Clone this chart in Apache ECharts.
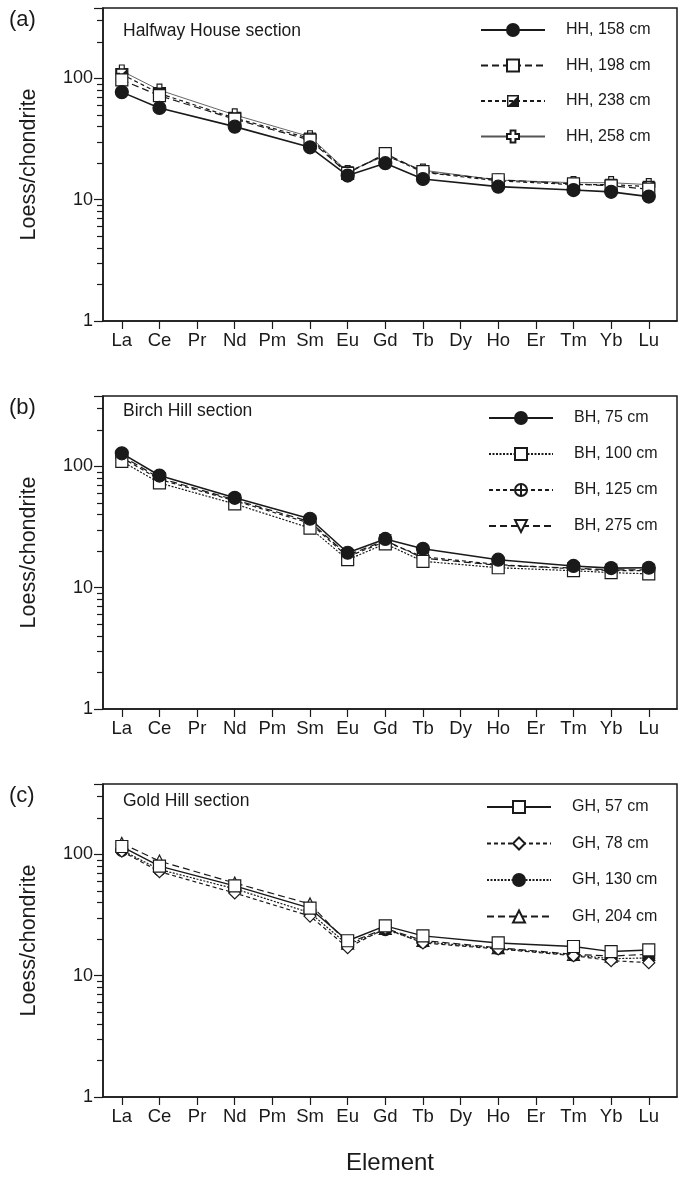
<!DOCTYPE html>
<html>
<head>
<meta charset="utf-8">
<script src="https://cdn.jsdelivr.net/npm/echarts@6/dist/echarts.min.js"></script>
<style>
  html, body { margin: 0; padding: 0; background: #fff; }
  #chart { width: 678px; height: 1182px; }
</style>
</head>
<body>
<div id="chart"></div>
<script>
// Rare earth elements, chondrite-normalised (null = not measured)
const ELEMENTS = ['La','Ce','Pr','Nd','Pm','Sm','Eu','Gd','Tb','Dy','Ho','Er','Tm','Yb','Lu'];
const Y_TICK_LABELS = [1, 10, 100];

// (a) Halfway House section
const HH_158 = [77, 57, null, 40, null, 27, 15.8, 20, 14.8, null, 12.8, null, 12.0, 11.6, 10.6];
const HH_198 = [97, 72, null, 46, null, 31, 16.5, 24, 17.0, null, 14.6, null, 13.5, 13.0, 12.2];
const HH_238 = [108, 75, null, 47, null, 32, 16.8, 23.5, 16.8, null, 14.3, null, 13.3, 13.3, 12.8];
const HH_258 = [115, 80, null, 50, null, 33, 17.0, 23, 17.5, null, 14.5, null, 13.8, 13.8, 13.3];

// (b) Birch Hill section
const BH_75  = [128, 84, null, 55, null, 37, 19.4, 25.2, 20.9, null, 17.0, null, 15.1, 14.5, 14.6];
const BH_100 = [110, 73, null, 49, null, 31, 17.0, 23, 16.5, null, 14.6, null, 13.8, 13.3, 13.0];
const BH_125 = [118, 78, null, 52, null, 34, 18.0, 24, 18.0, null, 15.5, null, 14.3, 13.8, 13.8];
const BH_275 = [122, 80, null, 53, null, 35, 18.5, 24.5, 17.5, null, 15.3, null, 14.5, 14.0, 14.0];

// (c) Gold Hill section
const GH_57  = [116, 80, null, 55, null, 36, 19.4, 25.7, 21.3, null, 18.6, null, 17.4, 15.8, 16.3];
const GH_78  = [106, 72, null, 48, null, 31, 17.0, 24.5, 18.6, null, 16.6, null, 14.6, 13.3, 12.8];
const GH_130 = [108, 75, null, 52, null, 33, 18.0, 24.0, 19.0, null, 16.8, null, 14.8, 13.8, 14.0];
const GH_204 = [123, 88, null, 58, null, 39, 18.5, 24.5, 19.5, null, 17.0, null, 15.0, 14.5, 15.0];

const FONT = "'Liberation Sans', Arial, sans-serif";
const INK = '#1a1a1a';

// custom marker outlines
const SYM_HALF_SQUARE = 'path://M0,0 L10,0 L10,10 L0,10 Z M1.2,1.2 L1.2,8.8 L8.8,1.2 Z';
const SYM_PLUS = 'path://M3,0 L7,0 L7,3 L10,3 L10,7 L7,7 L7,10 L3,10 L3,7 L0,7 L0,3 L3,3 Z';
const SYM_CIRCLE_PLUS = 'path://M0,5 A5,5 0 1,0 10,5 A5,5 0 1,0 0,5 Z M5,0 L5,10 M0,5 L10,5';
const SYM_DOWN_TRI = 'path://M0,0 L10,0 L5,9 Z';

const DASH_LONG = [7, 4];
const DASH_SHORT = [4, 3];
const DOTTED = [2, 1.5];

function toPoints(vals) {
  return vals.map((v, i) => (v == null ? null : [i, v])).filter(p => p);
}

const panels = [
  { tag: '(a)', title: 'Halfway House section', top: 8, titleY: 22,
    legendTop: 22, legendLeft: 480, legendGap: 19.5,
    series: [
      { name: 'HH, 158 cm', data: HH_158, symbol: 'circle', size: 13, fill: INK, dash: 'solid', width: 1.6, color: INK },
      { name: 'HH, 198 cm', data: HH_198, symbol: 'rect', size: 12, fill: '#fff', dash: DASH_LONG, width: 1.2, color: INK },
      { name: 'HH, 238 cm', data: HH_238, symbol: SYM_HALF_SQUARE, size: 12, fill: INK, dash: DASH_SHORT, width: 1.2, color: INK, noBorder: true },
      { name: 'HH, 258 cm', data: HH_258, symbol: SYM_PLUS, size: 12, fill: '#fff', dash: 'solid', width: 0.9, color: '#555' }
    ] },
  { tag: '(b)', title: 'Birch Hill section', top: 396, titleY: 402,
    legendTop: 410, legendLeft: 488, legendGap: 20,
    series: [
      { name: 'BH, 75 cm', data: BH_75, symbol: 'circle', size: 13, fill: INK, dash: 'solid', width: 1.6, color: INK },
      { name: 'BH, 100 cm', data: BH_100, symbol: 'rect', size: 12, fill: '#fff', dash: DOTTED, width: 1.2, color: INK },
      { name: 'BH, 125 cm', data: BH_125, symbol: SYM_CIRCLE_PLUS, size: 12, fill: '#fff', dash: DASH_SHORT, width: 1.2, color: INK },
      { name: 'BH, 275 cm', data: BH_275, symbol: SYM_DOWN_TRI, size: 11, fill: '#fff', dash: DASH_LONG, width: 1.2, color: INK }
    ] },
  { tag: '(c)', title: 'Gold Hill section', top: 784, titleY: 792,
    legendTop: 799, legendLeft: 486, legendGap: 20.5,
    series: [
      { name: 'GH, 57 cm', data: GH_57, symbol: 'rect', size: 12, fill: '#fff', dash: 'solid', width: 1.4, color: INK },
      { name: 'GH, 78 cm', data: GH_78, symbol: 'diamond', size: 12, fill: '#fff', dash: DASH_SHORT, width: 1.2, color: INK },
      { name: 'GH, 130 cm', data: GH_130, symbol: 'circle', size: 12, fill: INK, dash: DOTTED, width: 1.2, color: INK },
      { name: 'GH, 204 cm', data: GH_204, symbol: 'triangle', size: 12, fill: '#fff', dash: DASH_LONG, width: 1.2, color: INK }
    ] }
];

const PLOT_H = 313;
const grids = [], xAxes = [], yAxes = [], series = [], legends = [], titles = [];

panels.forEach((p, k) => {
  grids.push({
    left: 103, right: 1, top: p.top, height: PLOT_H,
    show: true, borderColor: INK, borderWidth: 1.5, backgroundColor: '#fff'
  });
  xAxes.push({
    gridIndex: k, type: 'value', min: -0.5, max: 14.75,
    axisLine: { show: true, onZero: false, lineStyle: { color: INK, width: 1.5 } },
    axisTick: { show: true, inside: false, length: 8, customValues: ELEMENTS.map((e, i) => i), lineStyle: { color: INK, width: 1.2 } },
    axisLabel: { customValues: ELEMENTS.map((e, i) => i), formatter: v => ELEMENTS[Math.round(v)] || '',
                 color: INK, fontSize: 18.5, fontFamily: FONT, margin: 10 },
    splitLine: { show: false },
    name: k === 2 ? 'Element' : '', nameLocation: 'middle', nameGap: 54,
    nameTextStyle: { color: INK, fontSize: 24, fontFamily: FONT }
  });
  yAxes.push({
    gridIndex: k, type: 'log', logBase: 10, min: 1, max: 380,
    axisLine: { show: true, onZero: false, lineStyle: { color: INK, width: 1.5 } },
    axisTick: { show: true, length: 9, lineStyle: { color: INK, width: 1.2 } },
    minorTick: { show: true, splitNumber: 9, length: 6, lineStyle: { color: INK, width: 1.2 } },
    axisLabel: { color: INK, fontSize: 18, fontFamily: FONT, margin: 10,
                 formatter: v => (Y_TICK_LABELS.indexOf(Math.round(v)) >= 0 && Math.abs(v - Math.round(v)) < 1e-6) ? String(Math.round(v)) : '' },
    splitLine: { show: false },
    name: 'Loess/chondrite', nameLocation: 'middle', nameGap: 63,
    nameTextStyle: { color: INK, fontSize: 21.5, fontFamily: FONT }
  });
  titles.push({ text: p.tag, left: 9, top: p.top + 1, padding: 0, textStyle: { fontSize: 22, fontWeight: 'normal', color: INK, fontFamily: FONT } });
  titles.push({ text: p.title, left: 123, top: p.titleY, padding: 0, textStyle: { fontSize: 17.5, fontWeight: 'normal', color: INK, fontFamily: FONT } });
  legends.push({
    orient: 'vertical', left: p.legendLeft, top: p.legendTop, padding: 0,
    itemWidth: 64, itemHeight: 15, itemGap: p.legendGap,
    data: p.series.map(s => s.name),
    textStyle: { fontSize: 16, color: INK, fontFamily: FONT, padding: [0, 0, 0, 16] },
    selectedMode: false
  });
  p.series.forEach(s => {
    series.push({
      type: 'line', name: s.name, xAxisIndex: k, yAxisIndex: k,
      data: toPoints(s.data),
      symbol: s.symbol, symbolSize: s.size, showAllSymbol: true,
      lineStyle: { color: s.color, width: s.width, type: s.dash },
      itemStyle: { color: s.fill, borderColor: s.noBorder ? s.fill : INK, borderWidth: s.noBorder ? 0 : 1.2 },
      emphasis: { disabled: true },
      animation: false
    });
  });
});

const chart = echarts.init(document.getElementById('chart'), null, { renderer: 'canvas' });
chart.setOption({
  backgroundColor: '#fff',
  animation: false,
  title: titles,
  grid: grids,
  xAxis: xAxes,
  yAxis: yAxes,
  legend: legends,
  series: series.reverse()
});
</script>
</body>
</html>
